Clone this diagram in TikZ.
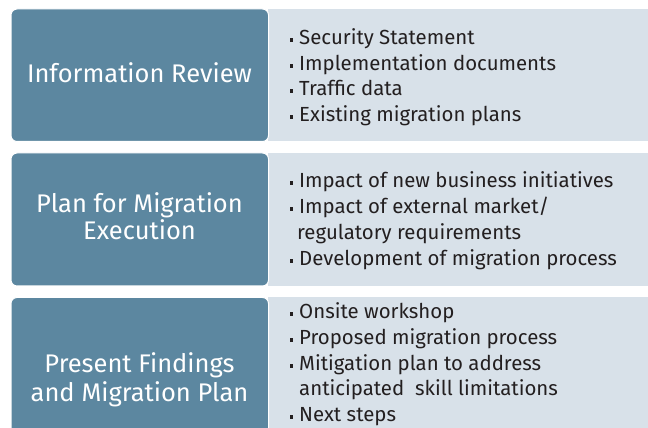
\documentclass[tikz,border=0pt]{standalone}
\usepackage{fontspec}
\setmainfont{Fira Sans}
\definecolor{boxblue}{RGB}{92,135,160}
\definecolor{panelbg}{RGB}{216,225,233}
\definecolor{txtcol}{RGB}{35,31,32}
\newcommand{\sqbul}{\makebox[9pt][l]{\rule[3.4pt]{3.2pt}{3.2pt}}}
\begin{document}
\begin{tikzpicture}[x=1pt,y=1pt,
  panelrect/.style={fill=panelbg},
  bluebox/.style={fill=boxblue,draw=white,line width=1pt,rounded corners=6pt},
  titletext/.style={anchor=base,inner sep=0pt,text=white,font=\fontsize{25.5}{28}\selectfont},
  itemtext/.style={anchor=base west,inner sep=0pt,text=txtcol,font=\fontsize{20.4}{24}\selectfont}]
\useasboundingbox (0,0) rectangle (648,428);
\begin{scope}
\clip (0,0) rectangle (648,428);
% panels
\fill[panelrect] (268,419) rectangle (648,286.5);
\fill[panelrect] (268,275) rectangle (648,142);
\fill[panelrect] (268,130.5) rectangle (648,-10);
% blue boxes
\draw[bluebox] (11,419) rectangle (268.5,286.5);
\draw[bluebox] (11,275) rectangle (268.5,142);
\draw[bluebox] (11,130.5) rectangle (268.5,-12);
\end{scope}
% titles
\node[titletext] (t1) at (139.5,345) {Information Review};
\node[titletext] (t2a) at (139.5,215) {Plan for Migration};
\node[titletext] (t2b) at (139.5,188) {Execution};
\node[titletext] (t3a) at (139.5,55) {Present Findings};
\node[titletext] (t3b) at (139.5,26) {and Migration Plan};
% panel 1
\node[itemtext] (a1) at (290,383) {\sqbul Security Statement};
\node[itemtext] (a2) at (290,357) {\sqbul Implementation documents};
\node[itemtext] (a3) at (290,332) {\sqbul Traffic data};
\node[itemtext] (a4) at (290,306) {\sqbul Existing migration plans};
% panel 2
\node[itemtext] (b1) at (290,240) {\sqbul Impact of new business initiatives};
\node[itemtext] (b2) at (290,214) {\sqbul Impact of external market/};
\node[itemtext] (b3) at (297,188) {regulatory requirements};
\node[itemtext] (b4) at (290,162) {\sqbul Development of migration process};
% panel 3
\node[itemtext] (c1) at (290,109) {\sqbul Onsite workshop};
\node[itemtext] (c2) at (290,83) {\sqbul Proposed migration process};
\node[itemtext] (c3) at (290,57) {\sqbul Mitigation plan to address};
\node[itemtext] (c4) at (299,32) {anticipated~ skill limitations};
\node[itemtext] (c5) at (290,6) {\sqbul Next steps};
\end{tikzpicture}
\end{document}
